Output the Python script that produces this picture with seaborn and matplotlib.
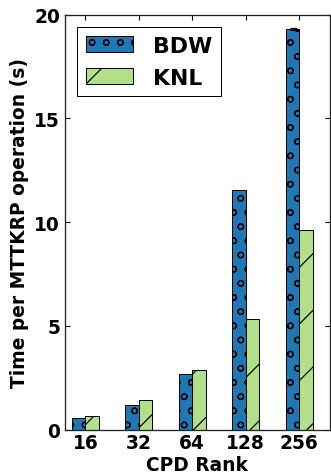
import matplotlib
matplotlib.use("Agg")
import matplotlib.pyplot as plt
import seaborn as sns
import pandas as pd
import numpy as np

# ---- data ----
ranks = ["16", "32", "64", "128", "256"]
bdw = [0.56, 1.18, 2.68, 11.54, 19.31]
knl = [0.64, 1.42, 2.88, 5.33, 9.62]
bdw_err = [0.0, 0.0, 0.0, 0.0, 0.06]
knl_err = [0.0, 0.0, 0.0, 0.0, 0.0]
series = ["BDW", "KNL"]
colors = ["#1f77b4", "#b2df8a"]
hatches = ["oo", "/"]
yticks = [0, 5, 10, 15, 20]

DPI = 170
W, H = 331, 476
px = 72.0 / DPI  # points per pixel

sns.set_theme(style="ticks", rc={
    "xtick.direction": "in", "ytick.direction": "in",
    "xtick.top": True, "ytick.right": True,
    "xtick.major.size": 5 * px, "ytick.major.size": 5 * px,
    "xtick.major.width": 1.1 * px, "ytick.major.width": 1.1 * px,
    "xtick.major.pad": 3 * px, "ytick.major.pad": 5 * px,
    "axes.linewidth": 1.3 * px, "axes.edgecolor": "#222222",
    "hatch.linewidth": 1.2 * px,
    "text.color": "black", "axes.labelcolor": "black",
    "xtick.color": "black", "ytick.color": "black",
})
plt.rcParams["font.family"] = ["DejaVu Sans"]
plt.rcParams["font.weight"] = "bold"

df = pd.DataFrame({
    "rank": ranks * 2,
    "time": bdw + knl,
    "arch": [series[0]] * len(ranks) + [series[1]] * len(ranks),
})
errs = {series[0]: bdw_err, series[1]: knl_err}

fig = plt.figure(figsize=(W / DPI, H / DPI), dpi=DPI)
ax = fig.add_axes([65 / W, 1 - 430.7 / H, (330 - 65) / W, (430.7 - 15.7) / H])

sns.barplot(data=df, x="rank", y="time", hue="arch", order=ranks,
            hue_order=series, palette=colors, saturation=1, width=0.5,
            errorbar=None, edgecolor="black", linewidth=1.0 * px, ax=ax)

for cont, h, name in zip(ax.containers, hatches, series):
    for bar, e in zip(cont.patches, errs[name]):
        bar.set_hatch(h)
        if e > 0:
            ax.errorbar(bar.get_x() + bar.get_width() / 2, bar.get_height(),
                        yerr=e, fmt="none", ecolor="black",
                        elinewidth=1.2 * px, capsize=3.5 * px, capthick=1.2 * px)

ax.set_xlim(-0.38, 4.575)
ax.set_ylim(0, 20)
ax.set_yticks(yticks)
fs = 7.9
ax.tick_params(labelsize=fs)
for lab in ax.get_xticklabels() + ax.get_yticklabels():
    lab.set_fontweight("bold")
ax.set_xlabel("CPD Rank", fontsize=fs, fontweight="bold", labelpad=1.2)
ax.set_ylabel("Time per MTTKRP operation (s)", fontsize=fs, fontweight="bold", labelpad=2.0)

if ax.get_legend() is not None:
    ax.get_legend().remove()
leg = ax.legend(handles=list(ax.containers[:2]), labels=series, loc="upper left",
                prop={"size": 9.3, "weight": "bold"}, frameon=True, fancybox=False,
                edgecolor="black", framealpha=1, handlelength=2.15, handleheight=0.8,
                handletextpad=0.9, labelspacing=0.55, borderpad=0.4,
                borderaxespad=0.55)
leg.get_frame().set_linewidth(1.0 * px)

fig.savefig("out.png", dpi=DPI)
